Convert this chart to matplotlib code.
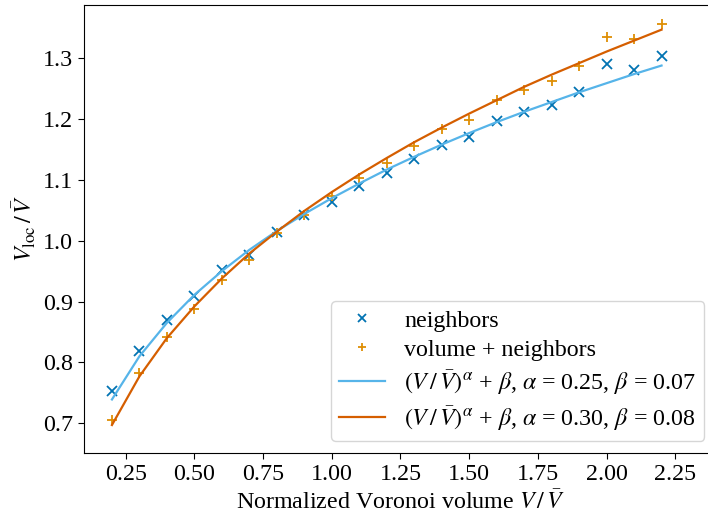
import matplotlib
matplotlib.use('Agg')
import matplotlib.pyplot as plt
import numpy as np

# fonts: Times-like text, STIX math
plt.rcParams['font.family'] = 'serif'
plt.rcParams['font.serif'] = ['Liberation Serif', 'DejaVu Serif']
plt.rcParams['mathtext.fontset'] = 'stix'
plt.rcParams['font.size'] = 17.3

# normalized Voronoi volume
vol = [0.2, 0.3, 0.4, 0.5, 0.6, 0.7, 0.8, 0.9, 1.0, 1.1, 1.2,
       1.3, 1.4, 1.5, 1.6, 1.7, 1.8, 1.9, 2.0, 2.1, 2.2]

# measured points
neighbors = [0.753, 0.818, 0.870, 0.909, 0.952, 0.976, 1.014, 1.043, 1.064, 1.090, 1.112,
             1.134, 1.157, 1.170, 1.197, 1.212, 1.223, 1.245, 1.291, 1.281, 1.303]
vol_neighbors = [0.706, 0.782, 0.842, 0.887, 0.936, 0.969, 1.012, 1.043, 1.073, 1.103, 1.128,
                 1.155, 1.183, 1.199, 1.231, 1.248, 1.262, 1.287, 1.335, 1.331, 1.356]

# fitted curves
fit_neighbors = [0.739, 0.810, 0.865, 0.911, 0.950, 0.985, 1.016, 1.044, 1.070, 1.094, 1.117,
                 1.138, 1.158, 1.177, 1.195, 1.212, 1.228, 1.244, 1.259, 1.274, 1.288]
fit_vol_neighbors = [0.697, 0.777, 0.840, 0.892, 0.938, 0.979, 1.015, 1.049, 1.080, 1.109, 1.136,
                     1.162, 1.186, 1.209, 1.231, 1.253, 1.273, 1.292, 1.311, 1.329, 1.347]

labels = ['neighbors', 'volume + neighbors',
          r'$(V\,/\,\bar{V})^\alpha$ + $\beta$, $\alpha$ = 0.25, $\beta$ = 0.07',
          r'$(V\,/\,\bar{V})^\alpha$ + $\beta$, $\alpha$ = 0.30, $\beta$ = 0.08']

fig = plt.figure(figsize=(7.08, 5.31), dpi=100)
ax = fig.add_axes([0.1193, 0.1469, 1.012 - 0.1193, 0.9911 - 0.1469])

ax.plot(vol, neighbors, 'x', color='#0173B2', ms=7, mew=1.3, label=labels[0])
ax.plot(vol, vol_neighbors, '+', color='#DE8F05', ms=7, mew=1.3, label=labels[1])
ax.plot(vol, fit_neighbors, '-', color='#56B4E9', lw=1.6, label=labels[2])
ax.plot(vol, fit_vol_neighbors, '-', color='#D55E00', lw=1.6, label=labels[3])

ax.set_xlim(0.1, 2.40)
ax.set_ylim(0.651, 1.388)
ax.set_xticks([0.25, 0.50, 0.75, 1.00, 1.25, 1.50, 1.75, 2.00, 2.25])
ax.set_xticklabels(['0.25', '0.50', '0.75', '1.00', '1.25', '1.50', '1.75', '2.00', '2.25'])
ax.set_yticks([0.7, 0.8, 0.9, 1.0, 1.1, 1.2, 1.3])
ax.tick_params(length=4.5)

ax.set_xlabel(r'Normalized Voronoi volume $V\,/\,\bar{V}$')
ax.set_ylabel(r'$V_\mathrm{loc}\,/\,\bar{V}$')
ax.legend(loc='lower right', markerscale=0.85, handlelength=1.9, borderpad=0.35, labelspacing=0.3)

plt.savefig('out.png', dpi=100)
